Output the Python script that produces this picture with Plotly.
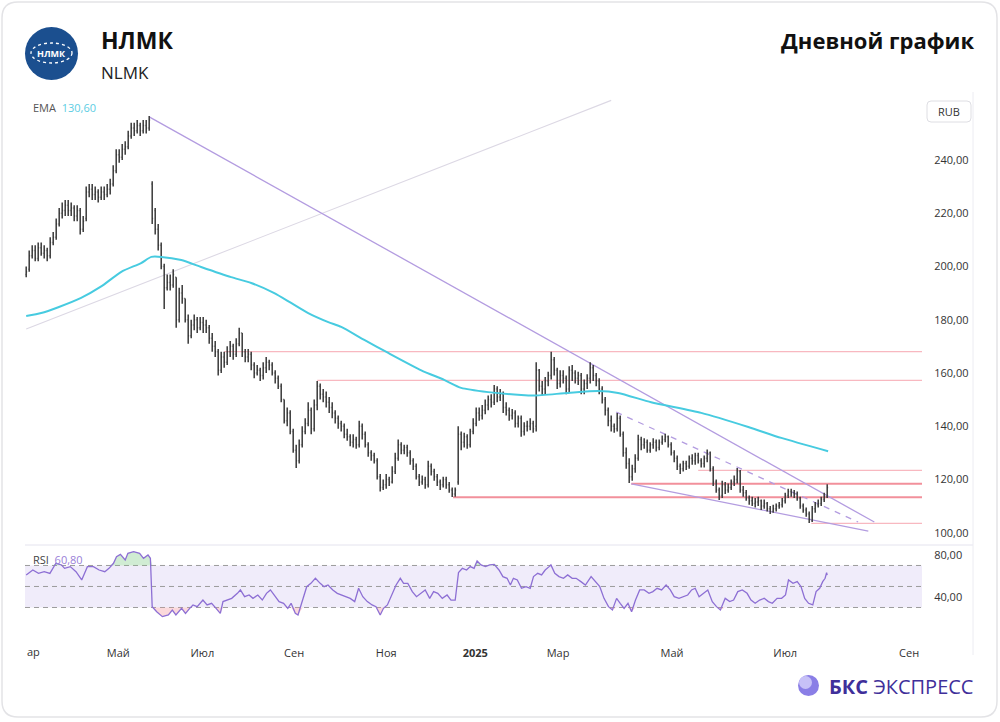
import plotly.graph_objects as go

# ---------------- data ----------------
open_ = [
    197, 199, 204, 206, 203, 207, 205, 206, 204, 209,
    211, 216, 220, 221, 223, 221, 222, 219, 221, 214,
    218, 228, 229, 227, 228, 226, 228, 227, 229, 231,
    236, 242, 241, 244, 245, 249, 252, 251, 253, 251,
    253, 252, 231, 221, 214, 208, 200, 192, 194, 193,
    196, 180, 190, 188, 180, 174, 178, 180, 177, 179,
    178, 177, 173, 170, 168, 161, 166, 164, 168, 170,
    167, 171, 175, 168, 166, 167, 163, 160, 161, 159,
    162, 164, 163, 160, 158, 155, 150, 142, 145, 138,
    131, 127, 133, 138, 141, 146, 139, 148, 155, 152,
    151, 149, 147, 145, 143, 141, 140, 137, 136, 134,
    135, 133, 140, 137, 133, 130, 129, 127, 121, 117,
    118, 120, 119, 123, 128, 133, 131, 132, 130, 127,
    125, 121, 119, 120, 118, 125, 123, 121, 119, 118,
    120, 118, 116, 114.5, 119, 137, 134, 136, 133, 138,
    141, 145, 144, 146, 148, 150, 149, 154, 151, 152,
    147, 146, 144, 145, 141, 143, 138, 140, 140, 141,
    140, 161, 155, 154, 157, 159, 165, 161, 156, 159,
    158, 154, 161, 160, 158, 159, 154, 156, 158, 162,
    159, 157, 154, 150, 146, 142, 140, 139, 143, 137,
    130, 126, 121, 124, 128, 135, 133, 134, 131, 133,
    134, 132, 134, 135, 136, 133, 130, 128, 125, 124,
    126, 125, 128, 127, 129, 127, 126, 128, 130, 124,
    119, 116, 114, 118, 116, 117, 119, 120, 123, 116,
    115, 113, 112, 111, 111.5, 112, 110, 111, 109, 108,
    109, 110, 110.5, 112, 114, 115.5, 115, 114.5, 113, 110,
    108.5, 107, 104.5, 109, 110.5, 111, 112.5, 113.5,
]
high = [
    200, 206, 208, 208, 209, 209, 208, 207, 211, 213,
    218, 222, 224, 225, 225, 224, 223, 223, 222, 219,
    230, 231, 231, 230, 229, 230, 230, 231, 233, 238,
    244, 244, 246, 247, 251, 254, 254, 255, 254, 255,
    255, 256.5, 232, 222, 216, 209, 201, 197, 197, 199,
    196, 192, 193, 188, 182, 180, 182, 181, 181, 181,
    180, 178, 175, 172, 169, 168, 168, 170, 172, 171,
    173, 177, 175, 169, 169, 168, 164, 163, 162, 164,
    166, 165, 164, 161, 159, 156, 150, 147, 146, 139,
    133, 135, 140, 143, 149, 147, 150, 157, 156, 154,
    153, 151, 149, 146, 144, 142, 141, 139, 137, 137,
    136, 142, 141, 138, 134, 131, 130, 128, 122, 120,
    122, 121, 125, 130, 135, 134, 133, 133, 131, 128,
    126, 122, 121.5, 121, 127, 126, 124, 122, 120, 121,
    121, 119, 117, 117, 140, 138, 137.5, 137, 139, 143,
    147, 147, 148, 150, 151.5, 152, 155.5, 155, 154, 153,
    149, 147, 146.5, 146, 144, 144, 141.5, 142, 143, 142,
    164, 161.5, 157, 158.5, 160.5, 168, 166, 162, 161, 161,
    159, 162.5, 163, 161, 160.5, 160, 157.5, 159.5, 164, 163,
    160, 158, 155, 151, 147, 144, 141, 145, 144, 138,
    132, 128, 125.5, 129.5, 136.8, 136, 135.5, 135, 134, 135.5,
    135, 135, 136.5, 137.2, 136.5, 134, 131, 129, 126, 127,
    127, 129, 129.5, 130, 130, 128, 129, 131.2, 130.5, 125,
    120, 117, 119.5, 119, 118.5, 120, 121.5, 124.3, 123.5, 117.5,
    116, 114, 113.5, 113, 113.5, 112.5, 112.5, 111.5, 110, 110.5,
    111, 111.5, 113, 115, 116.5, 116.5, 116, 115.5, 113.5, 111,
    109.5, 108, 110, 111.5, 112.5, 113.5, 115, 118.2,
]
low = [
    196, 198, 203, 202, 202, 204, 203, 202, 203, 208,
    210, 215, 218, 219, 219, 219, 217, 217, 212, 213,
    217, 226, 225, 225, 224, 225, 225, 226, 227, 230,
    235, 239, 240, 242, 244, 248, 249, 250, 249, 250,
    250, 251, 216, 212, 206, 199, 184, 191, 191, 192,
    177, 179, 186, 179, 171, 173, 176, 175, 176, 175,
    175, 171, 168, 166, 159, 160, 162, 163, 166, 165,
    166, 170, 166, 164, 164, 161, 158, 159, 157, 157.5,
    160, 161, 159, 156, 154, 149, 141, 140, 137, 130,
    124.3, 126, 132, 137, 140, 137, 138, 146, 150, 149,
    147, 145, 143, 141, 139, 138, 135.5, 134.5, 132.5, 132,
    131.5, 132, 135, 132, 128.5, 127, 126, 120, 115.5, 116,
    116.5, 117.5, 118.5, 122, 127, 129.5, 129.5, 128.5, 125.5, 123.5,
    120, 117.5, 118, 116.5, 117, 121.5, 119.5, 117.5, 116, 117,
    116.5, 115, 113.4, 113.5, 118, 131, 132, 131.5, 132, 137,
    140, 142, 142.5, 144.5, 146, 147, 148, 149, 149.5, 145,
    144, 142, 142.5, 139.5, 139.5, 136, 136.5, 138, 138.5, 137.5,
    138, 153, 151.5, 152, 155, 157.5, 159, 154, 154.5, 156,
    152, 152.5, 157, 156, 155.5, 152, 152, 154, 156, 157,
    155, 152, 148.5, 144, 140, 138, 137.5, 138, 136, 128.5,
    124, 118.7, 119.5, 122.5, 127, 131, 131.5, 130, 130, 131.5,
    130.5, 131, 133, 134, 132, 129, 126.5, 123.5, 122, 123,
    123.5, 124, 125.5, 125.5, 126, 124.5, 124.5, 126.5, 123, 117.5,
    115, 112.3, 113, 114.5, 115, 116, 117.5, 118.5, 115, 113.5,
    112, 110.5, 110, 109.5, 110, 108.5, 109, 108, 107, 107.5,
    108, 109, 109.5, 111, 113, 113.5, 113, 112, 109, 107.5,
    106, 103.6, 104, 107.5, 109.5, 110, 111.5, 113,
]
close = [
    198, 204, 206, 203, 207, 205, 206, 204, 209, 211,
    216, 220, 221, 223, 221, 222, 219, 221, 214, 217,
    228, 229, 227, 228, 226, 228, 227, 229, 231, 236,
    242, 241, 244, 245, 249, 252, 251, 253, 251, 253,
    252, 255, 218, 214, 208, 200, 192, 194, 193, 197,
    180, 190, 188, 180, 174, 178, 180, 177, 179, 178,
    177, 173, 170, 168, 161, 166, 164, 168, 170, 167,
    171, 175, 168, 166, 167, 163, 160, 161, 159, 162,
    164, 163, 160, 158, 155, 150, 142, 145, 138, 131,
    127, 133, 138, 141, 146, 139, 148, 155, 152, 151,
    149, 147, 145, 143, 141, 140, 137, 136, 134, 135,
    133, 140, 137, 133, 130, 129, 127, 121, 117, 118,
    120, 119, 123, 128, 133, 131, 132, 130, 127, 125,
    121, 119, 120, 118, 125, 123, 121, 119, 118, 120,
    118, 116, 114.5, 116, 137, 134, 136, 133, 138, 141,
    145, 144, 146, 148, 150, 149, 154, 151, 152, 147,
    146, 144, 145, 141, 143, 138, 140, 140, 141, 139,
    161, 155, 154, 157, 159, 165, 161, 156, 159, 158,
    154, 161, 160, 158, 159, 154, 156, 158, 162, 159,
    157, 154, 150, 146, 142, 140, 139, 143, 137, 130,
    126, 121, 124, 128, 135, 133, 134, 131, 133, 134,
    132, 134, 135, 136, 133, 130, 128, 125, 124, 126,
    125, 128, 127, 129, 127, 126, 128, 130, 124, 119,
    116, 114, 118, 116, 117, 119, 120, 123, 116, 115,
    113, 112, 111, 111.5, 112, 110, 111, 109, 108, 109,
    110, 110.5, 112, 114, 115.5, 115, 114.5, 113, 110, 108.5,
    107, 105, 109, 110.5, 111, 112.5, 113.5, 117,
]
bar_idx = list(range(len(close)))

ema_idx = [0, 5, 10.7, 18.3, 25, 31.7, 38.3, 41.7, 45, 51.7, 58.3, 68.3, 75, 82.7,
           88.3, 94, 100.7, 105, 112.7, 120.7, 131.7, 139.3, 145, 154, 165, 169.3,
           180.7, 190.7, 197.3, 208.3, 225, 240.7, 251.7, 267.3]
ema_val = [181.4, 182.5, 184.7, 188.2, 192.5, 198.0, 201.3, 203.6, 203.6, 202.4, 199.8,
           196.0, 193.8, 190.0, 186.3, 182.5, 179.1, 177.3, 172.4, 167.5, 161.0, 157.4,
           154.4, 152.8, 151.7, 151.5, 152.5, 153.2, 152.5, 149.0, 145.0, 139.7, 135.6, 130.6]

rsi_idx = [
    0, 2.2, 4.1, 6.0, 7.9, 8.9, 9.9, 11.8, 12.8, 14.7,
    16.6, 18.5, 20.4, 22.4, 24.3, 26.2, 27.6, 29.1, 30.1, 31.4,
    33.0, 33.9, 35.8, 37.8, 39.1, 40.6, 41.4, 42.0, 43.5, 45.4,
    47.4, 48.7, 49.9, 51.8, 53.1, 54.5, 55.6, 57.0, 58.9, 60.3,
    61.8, 63.3, 64.7, 65.6, 67.2, 68.5, 70.4, 71.4, 72.8, 74.3,
    75.6, 77.2, 78.7, 80.1, 81.4, 83.0, 84.3, 85.8, 87.2, 88.3,
    89.7, 90.6, 92.2, 93.5, 94.9, 96.4, 98.0, 99.3, 100.6, 102.2,
    103.7, 105.1, 106.4, 108.0, 109.5, 110.8, 112.2, 113.7, 115.3, 116.6,
    118.0, 119.1, 120.4, 121.8, 123.3, 124.7, 125.8, 127.2, 128.7, 130.1,
    131.4, 133.0, 134.5, 135.8, 137.2, 138.7, 140.3, 141.6, 143.0, 144.1,
    145.4, 146.8, 148.0, 149.3, 150.3, 151.6, 153.1, 154.5, 156.0, 157.6,
    158.9, 160.3, 161.4, 162.4, 163.7, 165.1, 166.6, 168.0, 169.1, 170.5,
    171.8, 173.0, 174.3, 174.9, 176.2, 177.6, 179.1, 180.5, 182.0, 183.3,
    184.9, 186.4, 188.3, 189.7, 191.2, 192.6, 194.1, 195.4, 196.8, 198.0,
    199.3, 200.6, 201.8, 203.1, 204.5, 206.0, 207.6, 208.9, 210.3, 211.8,
    213.3, 214.7, 216.0, 217.6, 219.1, 220.5, 221.8, 223.0, 224.3, 225.6,
    227.2, 228.7, 230.1, 231.4, 233.0, 234.5, 235.8, 237.2, 238.7, 240.3,
    241.6, 243.0, 244.5, 246.0, 247.4, 248.7, 250.3, 251.8, 253.1, 254.1,
    255.6, 257.0, 258.3, 259.5, 260.8, 262.2, 263.3, 264.5, 265.5, 266.3,
    266.8, 267.0,
]
rsi_val = [
    61.0, 65.7, 62.5, 64.1, 62.5, 67.3, 72.1, 70.5, 67.3, 68.9,
    64.1, 56.2, 68.9, 68.9, 65.7, 64.1, 67.3, 72.1, 78.4, 80.6,
    75.2, 81.6, 83.2, 81.6, 76.8, 80.0, 76.8, 30.8, 26.0, 21.3,
    22.9, 27.6, 22.9, 29.2, 24.4, 29.2, 32.4, 30.8, 37.1, 32.4,
    34.0, 29.2, 24.4, 35.6, 37.1, 38.7, 43.5, 46.7, 40.3, 41.9,
    38.7, 41.9, 37.1, 43.5, 46.7, 40.3, 35.6, 34.0, 29.2, 34.0,
    24.4, 22.9, 38.7, 49.8, 53.0, 57.8, 53.0, 49.8, 51.4, 46.7,
    43.5, 41.9, 40.3, 38.7, 35.6, 48.3, 40.3, 35.6, 32.4, 30.8,
    22.9, 29.2, 32.4, 41.9, 51.4, 57.8, 53.0, 53.0, 45.1, 40.3,
    43.5, 46.7, 38.7, 45.1, 43.5, 38.7, 41.9, 37.1, 37.1, 63.2,
    67.3, 65.7, 68.9, 67.3, 74.3, 70.5, 68.9, 70.5, 71.1, 65.7,
    59.4, 57.8, 51.4, 57.8, 56.2, 48.3, 49.8, 48.3, 59.4, 62.5,
    61.0, 65.7, 68.9, 70.5, 62.5, 59.4, 57.8, 61.0, 57.8, 57.8,
    54.6, 51.4, 59.4, 54.6, 49.8, 38.7, 30.8, 27.6, 38.7, 34.0,
    29.2, 34.0, 26.0, 37.1, 46.7, 46.7, 43.5, 45.1, 48.3, 46.7,
    51.4, 46.7, 40.3, 38.7, 40.3, 41.9, 46.7, 48.3, 40.3, 43.5,
    46.7, 35.6, 30.8, 27.6, 38.7, 35.6, 37.1, 45.1, 46.7, 43.5,
    37.1, 34.0, 37.1, 38.7, 35.6, 34.0, 38.7, 38.7, 41.9, 56.2,
    53.0, 54.6, 49.8, 38.7, 34.0, 32.4, 45.1, 48.3, 54.6, 57.8,
    63.2, 60.8,
]

month_idx = [30.7, 58.7, 89.3, 120.0, 149.7, 177.3, 215.3, 253.0, 294.3]
month_lbl = ["Май", "Июл", "Сен", "Ноя", "<b>2025</b>", "Мар", "Май", "Июл", "Сен"]

price_ticks = [100, 120, 140, 160, 180, 200, 220, 240]
rsi_ticks = [40, 80]

level_price = [168.0, 157.2, 123.4, 118.4, 113.3, 103.5]
level_start = [66, 97, 224, 201.7, 142.3, 261.7]
level_strong = [False, False, False, True, True, False]

trend_x0 = [0, 41, 201.7, 196.7]
trend_y0 = [176.5, 256.2, 118.3, 145.3]
trend_x1 = [195, 282.7, 280.7, 277.3]
trend_y1 = [262.4, 104.0, 100.6, 104.0]
trend_kind = ["aux", "main", "main", "dashed"]

# ---------------- layout helpers ----------------
L, R_EDGE, T, B_EDGE = 25, 922, 95, 637
W = R_EDGE - L
PH = B_EDGE - T


def PX(p):
    return (p - L) / W


def PY(p):
    return (B_EDGE - p) / PH


X_RANGE = [-0.4, 298.6]
PRICE_RANGE = [95.37, 264.42]
RSI_RANGE = [1.9, 89.5]
SPLIT = PY(545)

FONT = "Open Sans, Noto Sans, sans-serif"

fig = go.Figure()

fig.add_trace(go.Ohlc(
    x=bar_idx, open=open_, high=high, low=low, close=close,
    increasing=dict(line=dict(color="#3a3a3a", width=1.5)),
    decreasing=dict(line=dict(color="#3a3a3a", width=1.5)),
    tickwidth=0.3, xaxis="x", yaxis="y", showlegend=False, hoverinfo="skip"))

fig.add_trace(go.Scatter(
    x=ema_idx, y=ema_val, mode="lines", xaxis="x", yaxis="y",
    line=dict(color="#47cbe0", width=2, shape="spline", smoothing=0.6),
    showlegend=False, hoverinfo="skip"))

# RSI extreme-zone fills
rsi_top = [max(v, 70) for v in rsi_val]
rsi_bot = [min(v, 30) for v in rsi_val]
fig.add_trace(go.Scatter(x=rsi_idx, y=[70] * len(rsi_idx), mode="lines", line=dict(width=0),
                         xaxis="x2", yaxis="y2", showlegend=False, hoverinfo="skip"))
fig.add_trace(go.Scatter(x=rsi_idx, y=rsi_top, mode="lines", line=dict(width=0), fill="tonexty",
                         fillcolor="rgba(120,200,130,0.35)", xaxis="x2", yaxis="y2",
                         showlegend=False, hoverinfo="skip"))
fig.add_trace(go.Scatter(x=rsi_idx, y=[30] * len(rsi_idx), mode="lines", line=dict(width=0),
                         xaxis="x2", yaxis="y2", showlegend=False, hoverinfo="skip"))
fig.add_trace(go.Scatter(x=rsi_idx, y=rsi_bot, mode="lines", line=dict(width=0), fill="tonexty",
                         fillcolor="rgba(245,160,165,0.4)", xaxis="x2", yaxis="y2",
                         showlegend=False, hoverinfo="skip"))
fig.add_trace(go.Scatter(x=rsi_idx, y=rsi_val, mode="lines", xaxis="x2", yaxis="y2",
                         line=dict(color="#8d6fd4", width=1.3), showlegend=False, hoverinfo="skip"))

shapes = []
# RSI band and guide lines
shapes.append(dict(type="rect", xref="x2", yref="y2", x0=X_RANGE[0], x1=X_RANGE[1], y0=30, y1=70,
                   fillcolor="#f0ecfa", line=dict(width=0), layer="below"))
for lv in [70, 50, 30]:
    shapes.append(dict(type="line", xref="x2", yref="y2", x0=X_RANGE[0], x1=X_RANGE[1], y0=lv, y1=lv,
                       line=dict(color="#9c9c9c", width=1, dash="5px,4px"), layer="below"))

# horizontal levels
for p, s, strong in zip(level_price, level_start, level_strong):
    shapes.append(dict(type="line", xref="x", yref="y", x0=s, x1=X_RANGE[1], y0=p, y1=p,
                       line=dict(color="#f2909b" if strong else "#f8b8c0", width=2 if strong else 1.3),
                       layer="below"))

# trend lines
trend_style = {
    "aux": dict(color="#dcd8e4", width=1.1, dash="solid"),
    "main": dict(color="#b39ce0", width=1.3, dash="solid"),
    "dashed": dict(color="#b39ce0", width=1.3, dash="6px,6px"),
}
for x0, y0, x1, y1, k in zip(trend_x0, trend_y0, trend_x1, trend_y1, trend_kind):
    shapes.append(dict(type="line", xref="x", yref="y", x0=x0, y0=y0, x1=x1, y1=y1,
                       line=trend_style[k], layer="below"))


def rrect(x0, y0, x1, y1, r):
    return (f"M {PX(x0 + r)},{PY(y0)} L {PX(x1 - r)},{PY(y0)} Q {PX(x1)},{PY(y0)} {PX(x1)},{PY(y0 + r)} "
            f"L {PX(x1)},{PY(y1 - r)} Q {PX(x1)},{PY(y1)} {PX(x1 - r)},{PY(y1)} "
            f"L {PX(x0 + r)},{PY(y1)} Q {PX(x0)},{PY(y1)} {PX(x0)},{PY(y1 - r)} "
            f"L {PX(x0)},{PY(y0 + r)} Q {PX(x0)},{PY(y0)} {PX(x0 + r)},{PY(y0)} Z")


# card border
shapes.append(dict(type="path", xref="paper", yref="paper", path=rrect(2, 2, 997, 717, 16),
                   line=dict(color="#e3e3e6", width=1.5), fillcolor="rgba(0,0,0,0)", layer="below"))
# panel separators
shapes.append(dict(type="line", xref="paper", yref="paper", x0=PX(25), x1=PX(973), y0=SPLIT, y1=SPLIT,
                   line=dict(color="#e4e3ee", width=1)))
shapes.append(dict(type="line", xref="paper", yref="paper", x0=PX(973), x1=PX(973), y0=PY(92), y1=PY(655),
                   line=dict(color="#ececf2", width=1)))
# RUB box
shapes.append(dict(type="path", xref="paper", yref="paper", path=rrect(927, 101, 971, 122, 4),
                   line=dict(color="#dedee3", width=1), fillcolor="white"))
# logo
shapes.append(dict(type="circle", xref="paper", yref="paper", x0=PX(25), x1=PX(78), y0=PY(80), y1=PY(27),
                   fillcolor="#1b4f8f", line=dict(width=0)))
shapes.append(dict(type="circle", xref="paper", yref="paper", x0=PX(31), x1=PX(72), y0=PY(63), y1=PY(43),
                   fillcolor="rgba(0,0,0,0)", line=dict(color="white", width=1.3, dash="dot")))
# BKS sphere
shapes.append(dict(type="circle", xref="paper", yref="paper", x0=PX(798), x1=PX(819), y0=PY(696), y1=PY(675),
                   fillcolor="#8a7ee6", line=dict(width=0)))
shapes.append(dict(type="circle", xref="paper", yref="paper", x0=PX(799), x1=PX(812), y0=PY(689), y1=PY(676),
                   fillcolor="#c7c1f7", line=dict(width=0)))

annotations = [
    dict(text="<b>НЛМК</b>", x=PX(99), y=PY(40), xanchor="left", yanchor="middle",
         font=dict(size=23, color="#111", family=FONT)),
    dict(text="NLMK", x=PX(99), y=PY(72), xanchor="left", yanchor="middle",
         font=dict(size=17, color="#222", family=FONT)),
    dict(text="<b>Дневной график</b>", x=PX(976), y=PY(40), xanchor="right", yanchor="middle",
         font=dict(size=22, color="#111", family=FONT)),
    dict(text="<b>НЛМК</b>", x=PX(51.5), y=PY(53.5), xanchor="center", yanchor="middle",
         font=dict(size=9, color="white", family=FONT)),
    dict(text="EMA  <span style='color:#5ccde3'>130,60</span>", x=PX(31), y=PY(107),
         xanchor="left", yanchor="middle", font=dict(size=11, color="#555", family=FONT)),
    dict(text="RSI  <span style='color:#9a7fd8'>60,80</span>", x=PX(31), y=PY(559),
         xanchor="left", yanchor="middle", font=dict(size=11, color="#444", family=FONT)),
    dict(text="RUB", x=PX(949), y=PY(111.5), xanchor="center", yanchor="middle",
         font=dict(size=11, color="#333", family=FONT)),
    dict(text="ар", x=PX(25), y=PY(651), xanchor="left", yanchor="middle",
         font=dict(size=11, color="#333", family=FONT)),
    dict(text="<b>БКС</b> ЭКСПРЕСС", x=PX(975), y=PY(686), xanchor="right", yanchor="middle",
         font=dict(size=20, color="#3f2f9a", family=FONT)),
]
for a in annotations:
    a.update(xref="paper", yref="paper", showarrow=False)

axis_common = dict(showgrid=False, zeroline=False, showline=False, fixedrange=True)

fig.update_layout(
    width=1000, height=722,
    margin=dict(l=L, r=1000 - R_EDGE, t=T, b=722 - B_EDGE, pad=0),
    paper_bgcolor="white", plot_bgcolor="white", showlegend=False,
    separators=", ",
    font=dict(family=FONT, color="#333", size=11),
    xaxis=dict(domain=[0, 1], anchor="y", range=X_RANGE, showticklabels=False, ticks="",
               rangeslider=dict(visible=False), **axis_common),
    yaxis=dict(domain=[SPLIT, 1], anchor="x", side="right", range=PRICE_RANGE,
               tickvals=price_ticks, tickformat=".2f", ticks="outside", ticklen=9,
               tickcolor="rgba(0,0,0,0)", tickfont=dict(size=11, color="#333"), **axis_common),
    xaxis2=dict(domain=[0, 1], anchor="y2", range=X_RANGE, tickvals=month_idx, ticktext=month_lbl,
                ticks="outside", ticklen=6, tickcolor="rgba(0,0,0,0)",
                tickfont=dict(size=11, color="#333"), rangeslider=dict(visible=False), **axis_common),
    yaxis2=dict(domain=[0, SPLIT], anchor="x2", side="right", range=RSI_RANGE,
                tickvals=rsi_ticks, tickformat=".2f", ticks="outside", ticklen=9,
                tickcolor="rgba(0,0,0,0)", tickfont=dict(size=11, color="#333"), **axis_common),
    shapes=shapes,
    annotations=annotations,
)

fig.write_html("out.html", config={"displayModeBar": False})
